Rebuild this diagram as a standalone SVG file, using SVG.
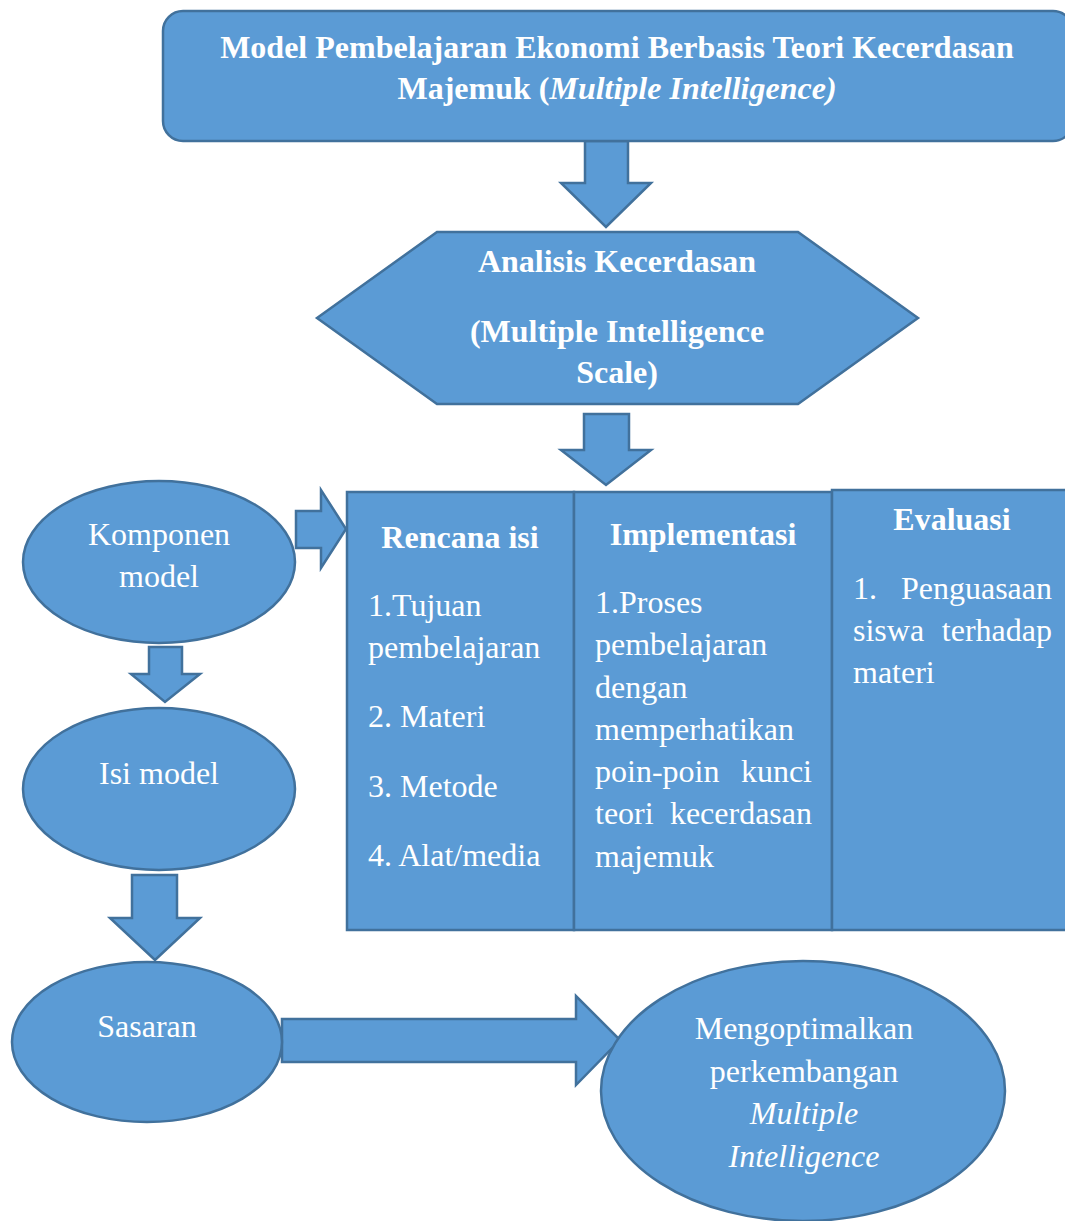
<svg xmlns="http://www.w3.org/2000/svg" width="1065" height="1221" viewBox="0 0 1065 1221">
<style>
.s{fill:#5B9BD5;stroke:#41719C;stroke-width:2.5}
text{font-family:"Liberation Serif","Times New Roman",serif;font-size:32px;fill:#FFFFFF}
.b{font-weight:bold}
.i{font-style:italic}
.c{text-anchor:middle}
.e{text-anchor:end}
</style>
<rect width="1065" height="1221" fill="#FFFFFF"/>
<g id="connectors">
<polygon class="s" points="585,141 628,141 628,183 651,183 606,227 561,183 585,183"/>
<polygon class="s" points="584,414 629,414 629,450 651,450 606,485 561,450 584,450"/>
<polygon class="s" points="296,511 321,511 321,490 346,529 321,568 321,548 296,548"/>
<polygon class="s" points="149,647 182,647 182,674 200,674 165,702 131,674 149,674"/>
<polygon class="s" points="132,875 177,875 177,918 200,918 155,960 110,918 132,918"/>
<polygon class="s" points="282,1019 576,1019 576,996 620,1040 576,1085 576,1062 282,1062"/>
</g>
<g id="title">
<rect class="s" x="163" y="11" width="910" height="130" rx="20" ry="20"/>
<text class="b c" x="617" y="58">Model Pembelajaran Ekonomi Berbasis Teori Kecerdasan</text>
<text class="b c" x="617" y="99">Majemuk (<tspan class="i">Multiple Intelligence)</tspan></text>
</g>
<g id="analisis">
<polygon class="s" points="317,318 437,232 798,232 918,318 798,404 437,404"/>
<text class="b c" x="617" y="272">Analisis Kecerdasan</text>
<text class="b c" x="617" y="342">(Multiple Intelligence</text>
<text class="b c" x="617" y="383">Scale)</text>
</g>
<g id="rencana">
<rect class="s" x="347" y="492" width="227" height="438"/>
<text class="b c" x="460" y="548">Rencana isi</text>
<text x="368" y="616">1.Tujuan</text>
<text x="368" y="658">pembelajaran</text>
<text x="368" y="727">2. Materi</text>
<text x="368" y="797">3. Metode</text>
<text x="368" y="866">4. Alat/media</text>
</g>
<g id="implementasi">
<rect class="s" x="574" y="492" width="258" height="438"/>
<text class="b c" x="703" y="545">Implementasi</text>
<text x="595" y="613">1.Proses</text>
<text x="595" y="655">pembelajaran</text>
<text x="595" y="698">dengan</text>
<text x="595" y="740">memperhatikan</text>
<text x="595" y="782">poin-poin</text><text class="e" x="812" y="782">kunci</text>
<text x="595" y="824">teori</text><text class="e" x="812" y="824">kecerdasan</text>
<text x="595" y="867">majemuk</text>
</g>
<g id="evaluasi">
<rect class="s" x="832" y="490" width="240" height="440"/>
<text class="b c" x="952" y="530">Evaluasi</text>
<text x="853" y="599">1.</text><text class="e" x="1052" y="599">Penguasaan</text>
<text x="853" y="641">siswa</text><text class="e" x="1052" y="641">terhadap</text>
<text x="853" y="683">materi</text>
</g>
<g id="komponen">
<ellipse class="s" cx="159" cy="562" rx="136" ry="81"/>
<text class="c" x="159" y="545">Komponen</text>
<text class="c" x="159" y="587">model</text>
</g>
<g id="isi">
<ellipse class="s" cx="159" cy="789" rx="136" ry="81"/>
<text class="c" x="159" y="784">Isi model</text>
</g>
<g id="sasaran">
<ellipse class="s" cx="147" cy="1042" rx="135" ry="80"/>
<text class="c" x="147" y="1037">Sasaran</text>
</g>
<g id="mengoptimalkan">
<ellipse class="s" cx="803" cy="1091" rx="202" ry="130"/>
<text class="c" x="804" y="1039">Mengoptimalkan</text>
<text class="c" x="804" y="1082">perkembangan</text>
<text class="c i" x="804" y="1124">Multiple</text>
<text class="c i" x="804" y="1167">Intelligence</text>
</g>
</svg>
